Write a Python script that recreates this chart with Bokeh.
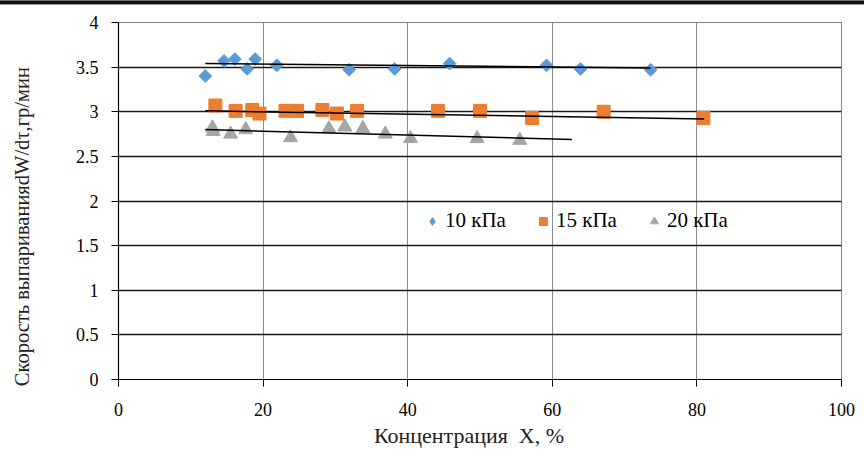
import numpy as np
from bokeh.plotting import figure
from bokeh.models import Legend, LegendItem, FixedTicker
from bokeh.embed import file_html
from bokeh.resources import INLINE

# ---- data ----
x10 = [12.0, 14.6, 16.1, 17.8, 18.9, 21.9, 31.9, 38.2, 45.8, 59.2, 63.9, 73.6]
y10 = [3.40, 3.57, 3.59, 3.48, 3.59, 3.52, 3.47, 3.48, 3.54, 3.52, 3.48, 3.47]

x15 = [13.4, 16.2, 18.5, 19.5, 23.1, 24.7, 28.2, 30.2, 33.0, 44.2, 50.0, 57.2, 67.1, 80.9]
y15 = [3.07, 3.01, 3.02, 2.98, 3.01, 3.01, 3.02, 2.98, 3.01, 3.01, 3.01, 2.93, 3.00, 2.93]

x20 = [13.0, 13.1, 15.5, 17.6, 23.8, 29.1, 31.3, 33.8, 36.9, 40.4, 49.6, 55.5]
y20 = [2.82, 2.78, 2.75, 2.80, 2.71, 2.81, 2.83, 2.81, 2.75, 2.70, 2.70, 2.68]

trend10_x = [12.0, 73.6]
trend10_y = [3.54, 3.49]
trend15_x = [12.0, 81.0]
trend15_y = [3.01, 2.92]
trend20_x = [12.0, 62.7]
trend20_y = [2.80, 2.69]

series_names = ["10 кПа", "15 кПа", "20 кПа"]

x_ticks = [0, 20, 40, 60, 80, 100]
y_ticks = [0, 0.5, 1, 1.5, 2, 2.5, 3, 3.5, 4]
y_tick_labels = ["0", "0.5", "1", "1.5", "2", "2.5", "3", "3.5", "4"]

NB = "\u00a0"
x_title = "Концентрация" + NB + NB + "X, %" + NB * 4
y_title = "Скорость выпариванияdW/dτ,гр/мин" + NB * 10

FONT = "Liberation Serif"
C10, C15, C20 = "#5B9BD5", "#ED7D31", "#A5A5A5"

p = figure(width=864, height=450, x_range=(0, 100), y_range=(0, 4),
           output_backend="svg", toolbar_location=None,
           min_border_left=118, min_border_right=23,
           min_border_top=22, min_border_bottom=71)

p.background_fill_color = "white"
p.border_fill_color = "white"
p.border_fill_alpha = 0
p.styles = {"box-shadow": "inset 0 1px 0 0 #707070, inset 0 4px 0 0 #111111, inset 0 5px 0 0 #9a9a9a"}
p.outline_line_color = "#808080"
p.outline_line_width = 1

# grids
p.xgrid.ticker = FixedTicker(ticks=x_ticks)
p.ygrid.ticker = FixedTicker(ticks=y_ticks)
p.xgrid.grid_line_color = "#8c8c8c"
p.xgrid.grid_line_width = 1
p.ygrid.grid_line_color = "#1a1a1a"
p.ygrid.grid_line_width = 1.3

# axes
for ax in (p.xaxis[0], p.yaxis[0]):
    ax.axis_line_color = "black"
    ax.axis_line_width = 1.2
    ax.major_tick_line_color = "black"
    ax.major_tick_out = 7
    ax.major_tick_in = 0
    ax.minor_tick_line_color = None
    ax.major_label_text_font = FONT
    ax.major_label_text_font_size = "18px"
    ax.major_label_text_color = "black"
    ax.axis_label_text_font = FONT
    ax.axis_label_text_font_style = "normal"
    ax.axis_label_text_color = "#222222"

p.xaxis.axis_label_text_font_size = "22px"
p.yaxis.axis_label_text_font_size = "20.5px"
p.xaxis.ticker = FixedTicker(ticks=x_ticks)
p.yaxis.ticker = FixedTicker(ticks=y_ticks)
p.yaxis.major_label_overrides = {t: l for t, l in zip(y_ticks, y_tick_labels)}
p.xaxis.major_label_standoff = 16
p.yaxis.major_label_standoff = 13
p.xaxis.axis_label = x_title
p.yaxis.axis_label = y_title
p.xaxis.axis_label_standoff = 4
p.yaxis.axis_label_standoff = 40

# markers
r10 = p.scatter(x10, y10, marker="square", angle=np.pi / 4, size=9,
                fill_color=C10, line_color=C10)
r15 = p.scatter(x15, y15, marker="square", size=13,
                fill_color=C15, line_color=C15)
r20 = p.scatter(x20, y20, marker="triangle", size=14,
                fill_color=C20, line_color=C20)

# legend stand-in for the diamond marker (zero size in the plot itself)
l10 = p.scatter(x10, y10, marker="diamond", size=0, fill_color=C10, line_color=C10)

# trend lines
for tx, ty in ((trend10_x, trend10_y), (trend15_x, trend15_y), (trend20_x, trend20_y)):
    p.line(tx, ty, line_color="black", line_width=1.5)

legend = Legend(items=[LegendItem(label=series_names[0], renderers=[l10]),
                       LegendItem(label=series_names[1], renderers=[r15]),
                       LegendItem(label=series_names[2], renderers=[r20])],
                orientation="horizontal", location=(304, 146))
legend.label_text_font = FONT
legend.label_text_font_size = "21px"
legend.label_text_color = "black"
legend.glyph_width = 20
legend.glyph_height = 20
legend.label_standoff = 3
legend.spacing = 27
legend.padding = 0
legend.margin = 0
legend.border_line_color = None
legend.background_fill_alpha = 0
legend.label_height = 20
p.add_layout(legend, "center")

open("out.html", "w").write(file_html(p, INLINE))
